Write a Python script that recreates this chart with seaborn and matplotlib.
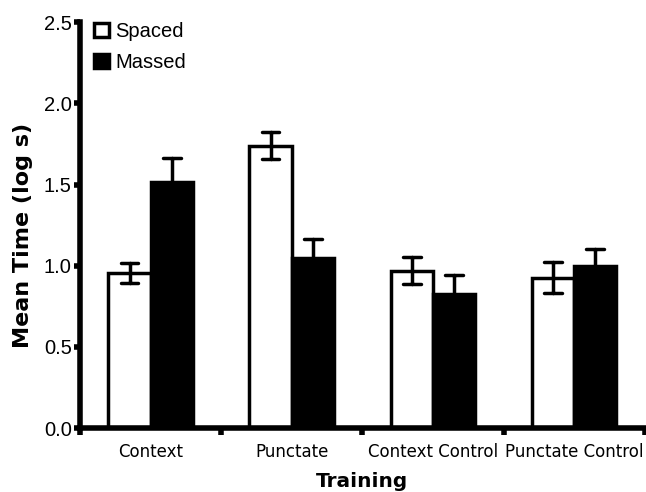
import pandas as pd
import matplotlib.pyplot as plt
import seaborn as sns

# Values (means and standard errors, log s)
training = ['Context', 'Punctate', 'Context Control', 'Punctate Control']
spaced_mean = [0.955, 1.74, 0.97, 0.925]
spaced_se = [0.06, 0.085, 0.085, 0.095]
massed_mean = [1.515, 1.045, 0.825, 1.0]
massed_se = [0.15, 0.12, 0.12, 0.10]


def build_frame():
    # two rows per bar (mean - se, mean + se) so a min/max interval gives the SE bars
    rows = []
    for i, t in enumerate(training):
        for cond, m, s in (('Spaced', spaced_mean[i], spaced_se[i]),
                           ('Massed', massed_mean[i], massed_se[i])):
            rows.append({'Training': t, 'Schedule': cond, 'Time': m - s})
            rows.append({'Training': t, 'Schedule': cond, 'Time': m + s})
    return pd.DataFrame(rows)


def main():
    data = build_frame()
    sns.set_style('ticks')
    plt.rcParams['font.family'] = ['DejaVu Sans']
    plt.rcParams['text.color'] = 'black'
    plt.rcParams['axes.labelcolor'] = 'black'
    plt.rcParams['xtick.color'] = 'black'
    plt.rcParams['ytick.color'] = 'black'

    fig, ax = plt.subplots(figsize=(6.46, 4.92), dpi=100)
    fig.subplots_adjust(left=0.124, right=0.998, bottom=0.13, top=0.955)

    sns.barplot(data=data, x='Training', y='Time', hue='Schedule',
                hue_order=['Spaced', 'Massed'], order=training,
                palette={'Spaced': 'white', 'Massed': 'black'},
                estimator='mean', errorbar=('pi', 100), width=0.6,
                edgecolor='black', linewidth=2.5, capsize=0.25,
                err_kws={'color': 'black', 'linewidth': 2.5}, ax=ax)

    ax.set_ylim(0, 2.5)
    ax.set_xlim(-0.5, 3.5)
    ax.set_yticks([0, 0.5, 1.0, 1.5, 2.0, 2.5])
    ax.set_yticklabels(['0.0', '0.5', '1.0', '1.5', '2.0', '2.5'],
                       family='Liberation Sans', fontsize=14.5)
    ax.set_xticks(range(len(training)))
    ax.set_xticklabels(training, fontsize=12)
    ax.tick_params(axis='x', length=0, pad=11)
    ax.set_xticks([-0.5, 0.5, 1.5, 2.5, 3.5], minor=True)
    ax.tick_params(axis='x', which='minor', length=5, width=4, color='black')
    ax.tick_params(axis='y', length=4, width=4, color='black', pad=2)

    for side in ('left', 'bottom'):
        ax.spines[side].set_linewidth(4)
        ax.spines[side].set_color('black')
    sns.despine(ax=ax)

    ax.set_xlabel('Training', fontsize=14.5, fontweight='bold', labelpad=8)
    ax.set_ylabel('Mean Time (log s)', fontsize=16, fontweight='bold', labelpad=8)
    ax.yaxis.label.set_y(0.475)

    leg = ax.legend(loc='upper left', bbox_to_anchor=(0.0, 1.035), frameon=False,
                    prop={'family': 'Liberation Sans', 'size': 14.5},
                    handlelength=0.75, handleheight=0.75, handletextpad=0.3,
                    labelspacing=0.6, borderaxespad=0.3)
    for h in leg.legend_handles:
        h.set_edgecolor('black')
        h.set_linewidth(2.5)

    fig.savefig('out.png', dpi=100)


if __name__ == "__main__":
    main()
